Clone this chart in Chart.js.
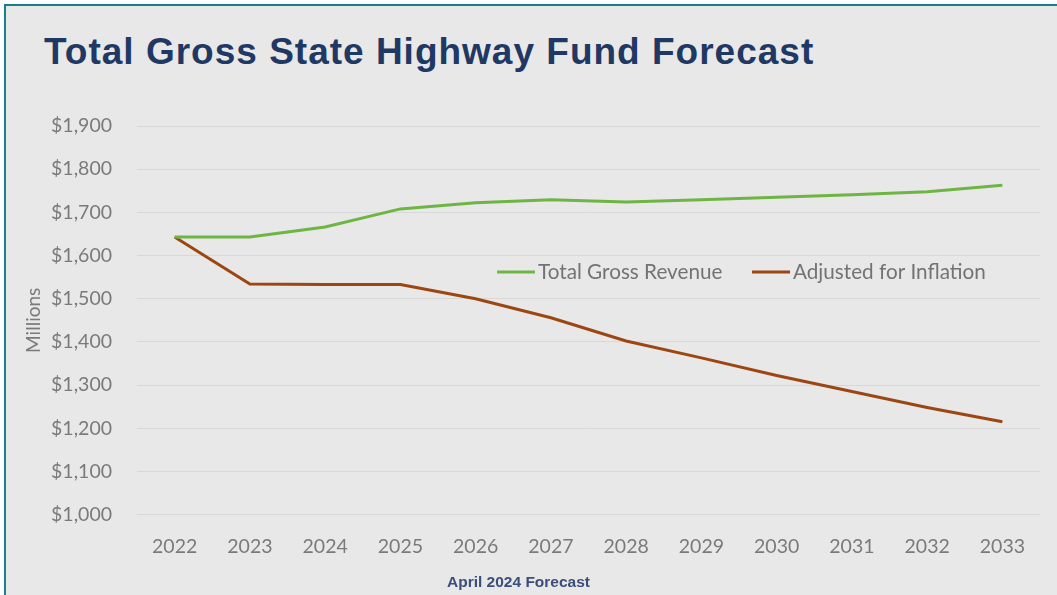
<!DOCTYPE html>
<html><head><meta charset="utf-8">
<script src="https://cdn.jsdelivr.net/npm/chart.js@4"></script>
<style>
html,body{margin:0;padding:0;background:#fff;width:1057px;height:595px;overflow:hidden;}
#frame{position:absolute;left:4px;top:4px;width:1053px;height:591px;background:#e8e8e8;border-left:2px solid #1b7f89;border-top:2px solid #1b7f89;box-sizing:border-box;}
#title{position:absolute;left:44px;top:33px;font:bold 37px "Liberation Sans",sans-serif;letter-spacing:1px;line-height:1;color:#1f3864;white-space:nowrap;}
#note{position:absolute;left:447px;top:574px;font:bold 15.5px "Liberation Sans",sans-serif;line-height:1;color:#3a4e7c;white-space:nowrap;}
#c{position:absolute;left:0;top:0;}
</style></head>
<body>
<div id="frame"></div>
<div id="title">Total Gross State Highway Fund Forecast</div>
<canvas id="c" width="1057" height="595"></canvas>
<div id="note">April 2024 Forecast</div>
<script>
const years = ["2022","2023","2024","2025","2026","2027","2028","2029","2030","2031","2032","2033"];
const totalGrossRevenue = [1643,1643,1666,1708,1722,1729,1724,1729,1735,1741,1748,1763];
const adjustedForInflation = [1643,1534,1533,1533,1500,1456,1402,1363,1322,1285,1248,1215];
const yTicks = [1000,1100,1200,1300,1400,1500,1600,1700,1800,1900];
const seriesNames = ["Total Gross Revenue","Adjusted for Inflation"];

const legendPlugin = {
  id:'inlineLegend',
  afterDatasetsDraw(chart){
    const ctx = chart.ctx;
    const y = 272;
    const items = [{x:497, ds:chart.data.datasets[0]},{x:752, ds:chart.data.datasets[1]}];
    ctx.save();
    ctx.font = '20.7px Lato, "Open Sans", sans-serif';
    ctx.textBaseline = 'middle';
    items.forEach(it=>{
      ctx.strokeStyle = it.ds.borderColor;
      ctx.lineWidth = 3;
      ctx.beginPath(); ctx.moveTo(it.x, y); ctx.lineTo(it.x+38, y); ctx.stroke();
      ctx.fillStyle = '#737373';
      ctx.fillText(it.ds.label, it.x+41, y);
    });
    ctx.restore();
  }
};

new Chart(document.getElementById('c'), {
  type:'line',
  data:{
    labels: years,
    datasets:[
      {label:seriesNames[0], data:totalGrossRevenue, borderColor:'#6fb544', borderWidth:3, pointRadius:0, tension:0, fill:false},
      {label:seriesNames[1], data:adjustedForInflation, borderColor:'#9c4612', borderWidth:3, pointRadius:0, tension:0, fill:false}
    ]
  },
  options:{
    responsive:false, animation:false, devicePixelRatio:1,
    layout:{padding:{left:18,right:17,top:126,bottom:17}},
    plugins:{legend:{display:false}, title:{display:false}, tooltip:{enabled:false}},
    scales:{
      x:{
        offset:true,
        grid:{display:false, drawTicks:false},
        border:{display:false},
        ticks:{padding:20, color:'#7a7a7a', font:{family:'Lato, "Open Sans", sans-serif', size:19.5}}
      },
      y:{
        min:1000, max:1900,
        afterBuildTicks(scale){ scale.ticks = yTicks.map(v=>({value:v})); },
        afterFit(scale){ scale.width = 119; },
        grid:{color:'#d8d8d8', lineWidth:1, drawTicks:false},
        border:{display:false},
        title:{display:true, text:'Millions', color:'#7a7a7a', font:{family:'Lato, "Open Sans", sans-serif', size:19}, padding:{top:4,bottom:0}},
        ticks:{padding:25, color:'#7a7a7a', font:{family:'Lato, "Open Sans", sans-serif', size:19.5},
          callback:(v)=>'$'+v.toLocaleString('en-US')}
      }
    }
  },
  plugins:[legendPlugin]
});
</script>
</body></html>
